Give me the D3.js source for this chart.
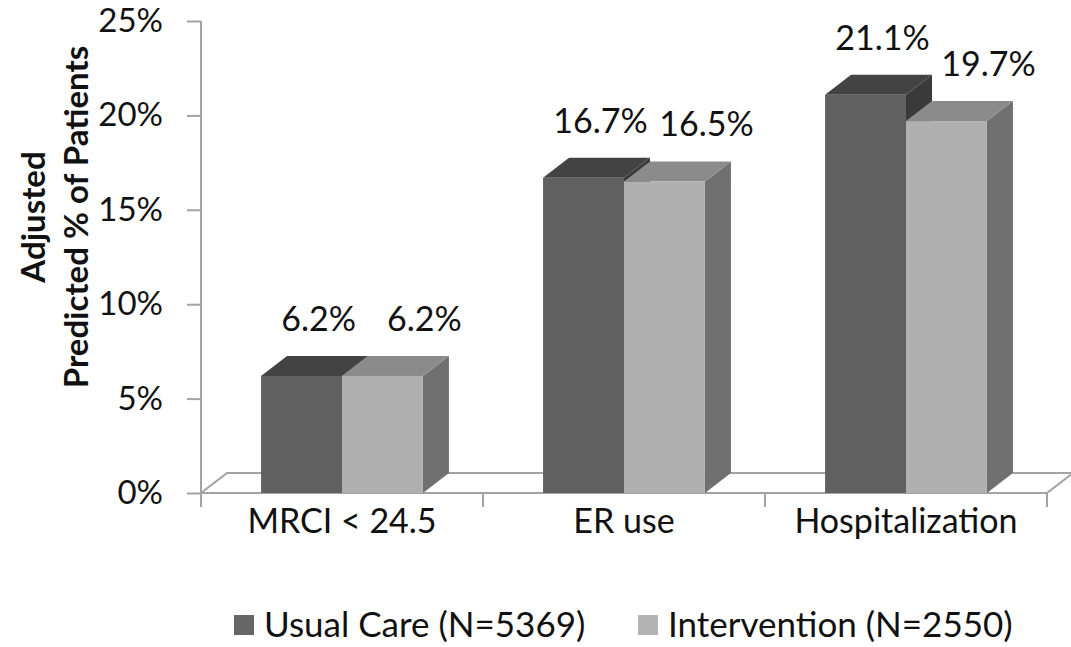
<!DOCTYPE html>
<html>
<head>
<meta charset="utf-8">
<script src="https://cdn.jsdelivr.net/npm/d3@7"></script>
<style>
  html, body { margin: 0; padding: 0; background: #fff; }
  svg { display: block; }
  text { font-family: Lato, "Open Sans", sans-serif; fill: #111; }
</style>
</head>
<body>
<svg id="chart" width="1071" height="647"></svg>
<script>
// Adjusted predicted percentage of patients, by outcome and study arm
const categories = ["MRCI < 24.5", "ER use", "Hospitalization"];
const seriesNames = ["Usual Care (N=5369)", "Intervention (N=2550)"];
const usualCare = [6.2, 16.7, 21.1];
const intervention = [6.2, 16.5, 19.7];
const yTicks = [0, 5, 10, 15, 20, 25];

const seriesValues = [usualCare, intervention];

// faces of each 3D column: front, top, right side
const palette = [
  { front: "#606060", top: "#434343", side: "#3a3a3a", legend: "#666666" },
  { front: "#b0b0b0", top: "#8b8b8b", side: "#707070", legend: "#b3b3b3" }
];

const svg = d3.select("#chart");
const plotLeft = 201, plotRight = 1047, plotTop = 21, plotBottom = 493;
const depthX = 26, depthY = 20;      // oblique depth of the floor and columns
const axisColor = "#a3a3a3";

const y = d3.scaleLinear().domain([0, 25]).range([plotBottom, plotTop]);
const x0 = d3.scaleBand().domain(categories).range([plotLeft, plotRight]);
const groupW = x0.bandwidth() * 0.574;
const x1 = d3.scaleBand().domain(seriesNames).range([0, groupW]);

// floor
svg.append("path")
  .attr("d", d3.line()([
    [plotLeft, plotBottom], [plotRight, plotBottom],
    [plotRight + depthX, plotBottom - depthY], [plotLeft + depthX, plotBottom - depthY]
  ]) + "Z")
  .attr("fill", "none")
  .attr("stroke", axisColor)
  .attr("stroke-width", 2);

// value axis
const yAxis = svg.append("g")
  .attr("transform", `translate(${plotLeft},0)`)
  .call(d3.axisLeft(y).tickValues(yTicks).tickFormat(d => d + "%").tickSize(14).tickPadding(24));
yAxis.select(".domain").remove();
yAxis.selectAll(".tick line").attr("stroke", axisColor).attr("stroke-width", 2);
yAxis.selectAll(".tick text")
  .attr("font-size", 33)
  .attr("fill", "#111")
  .style("font-family", "Lato, sans-serif");
svg.append("line")
  .attr("x1", plotLeft).attr("x2", plotLeft)
  .attr("y1", y(25)).attr("y2", y(0) + 14)
  .attr("stroke", axisColor).attr("stroke-width", 2);

// category axis ticks on the band boundaries
const bounds = categories.map(c => x0(c)).concat([x0(categories[categories.length - 1]) + x0.bandwidth()]);
svg.append("g").selectAll("line")
  .data(bounds.slice(1))
  .join("line")
  .attr("x1", d => d).attr("x2", d => d)
  .attr("y1", y(0)).attr("y2", y(0) + 14)
  .attr("stroke", axisColor).attr("stroke-width", 2);

svg.append("g").selectAll("text")
  .data(categories)
  .join("text")
  .attr("x", c => x0(c) + x0.bandwidth() / 2)
  .attr("y", 533)
  .attr("text-anchor", "middle")
  .attr("font-size", 34)
  .text(c => c);

// columns
const bars = svg.append("g");
categories.forEach((c, ci) => {
  const gx = x0(c) + (x0.bandwidth() - groupW) / 2;
  seriesNames.forEach((s, si) => {
    const v = seriesValues[si][ci];
    const xa = gx + x1(s), xb = xa + x1.bandwidth();
    const yt = y(v), yb = y(0);
    const col = palette[si];
    const g = bars.append("g");
    g.append("path").attr("fill", col.side)
      .attr("d", d3.line()([[xb, yb], [xb + depthX, yb - depthY], [xb + depthX, yt - depthY], [xb, yt]]) + "Z");
    g.append("path").attr("fill", col.top)
      .attr("d", d3.line()([[xa, yt], [xa + depthX, yt - depthY], [xb + depthX, yt - depthY], [xb, yt]]) + "Z");
    g.append("rect").attr("fill", col.front)
      .attr("x", xa).attr("y", yt).attr("width", xb - xa).attr("height", yb - yt);
  });
});

// value labels
const labelShift = [17, 42];
categories.forEach((c, ci) => {
  const gx = x0(c) + (x0.bandwidth() - groupW) / 2;
  seriesNames.forEach((s, si) => {
    const v = seriesValues[si][ci];
    svg.append("text")
      .attr("x", gx + x1(s) + x1.bandwidth() / 2 + labelShift[si])
      .attr("y", y(v) - 45)
      .attr("text-anchor", "middle")
      .attr("font-size", 34)
      .text(v.toFixed(1) + "%");
  });
});

// value axis title
const title = svg.append("text")
  .attr("transform", "translate(0,217) rotate(-90)")
  .attr("text-anchor", "middle")
  .attr("font-size", 33)
  .attr("font-weight", "bold");
title.append("tspan").attr("x", 0).attr("y", 45).text("Adjusted");
title.append("tspan").attr("x", 0).attr("y", 88).text("Predicted % of Patients");

// legend
const legendX = [234, 638];
const legend = svg.append("g");
seriesNames.forEach((s, si) => {
  legend.append("rect")
    .attr("x", legendX[si]).attr("y", 615).attr("width", 20).attr("height", 20)
    .attr("fill", palette[si].legend);
  legend.append("text")
    .attr("x", legendX[si] + 30).attr("y", 637)
    .attr("font-size", 35)
    .text(s);
});
</script>
</body>
</html>
